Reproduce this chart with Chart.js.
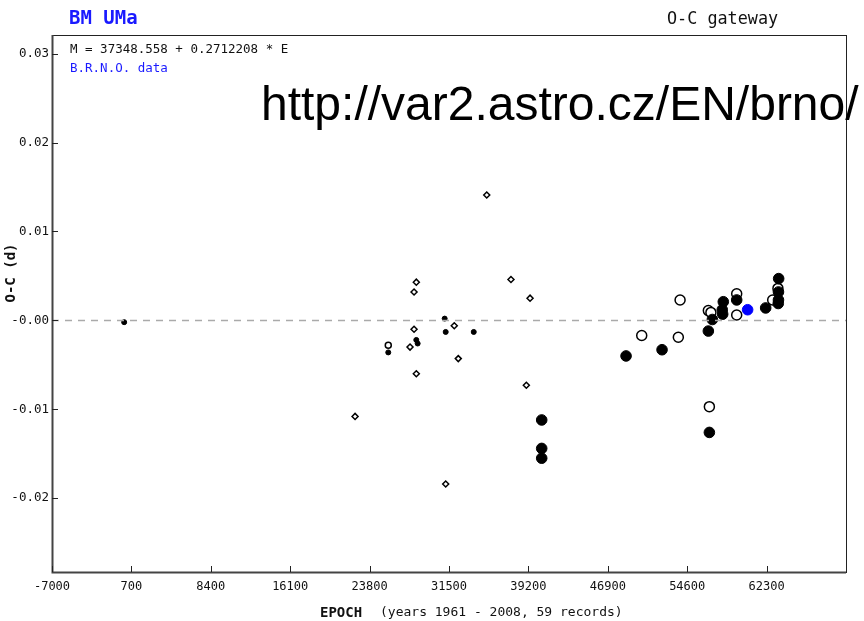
<!DOCTYPE html>
<html>
<head>
<meta charset="utf-8">
<title>BM UMa O-C</title>
<script src="https://cdn.jsdelivr.net/npm/chart.js@4.4.1/dist/chart.umd.min.js"></script>
<style>
    body { margin: 0; background: #fff; }
    canvas { display: block; }
</style>
</head>
<body>
<canvas id="ocChart" width="864" height="621"></canvas>
<script>
// axis ticks
const xTickValues = [-7000, 700, 8400, 16100, 23800, 31500, 39200, 46900, 54600, 62300];
const xTickLabels = ['-7000', '700', '8400', '16100', '23800', '31500', '39200', '46900', '54600', '62300'];
const yTickValues = [0.03, 0.02, 0.01, 0, -0.01, -0.02];
const yTickLabels = ['0.03', '0.02', '0.01', '-0.00', '-0.01', '-0.02'];

// visual minima (small open diamonds)
const visEpoch = [35160, 28330, 28110, 37510, 39360, 32010, 28110, 27720, 32400, 28330, 39000, 22390, 31180];
const visOC = [0.0141, 0.0043, 0.0032, 0.0046, 0.0025, -0.0006, -0.0010, -0.0030, -0.0043, -0.0060, -0.0073, -0.0108, -0.0184];

// small filled points
const smallEpoch = [0, 31080, 31180, 33900, 28330, 28460, 25610];
const smallOC = [-0.0002, 0.0002, -0.0013, -0.0013, -0.0022, -0.0026, -0.0036];

// small open point
const smallOpenEpoch = [25610];
const smallOpenOC = [-0.0028];

// primary minima (large filled)
const priEpoch = [40490, 40490, 40490, 48670, 52160, 56650, 56750, 57040, 58040, 58000, 58100, 59400, 62210, 63470, 63450, 63450, 63430];
const priOC = [-0.0112, -0.0144, -0.0155, -0.0040, -0.0033, -0.0012, -0.0126, 0.0001, 0.0007, 0.0012, 0.0021, 0.0023, 0.0014, 0.0047, 0.0032, 0.0023, 0.0019];

// secondary minima (large open)
const secEpoch = [50190, 53740, 53910, 56650, 56900, 56750, 59400, 59400, 62890, 63400];
const secOC = [-0.0017, -0.0019, 0.0023, 0.0011, 0.0009, -0.0097, 0.0030, 0.0006, 0.0023, 0.0036];

// B.R.N.O. data
const brnoEpoch = [60460];
const brnoOC = [0.0012];

const xMin = -7000, xMax = 70000;
const yMin = -0.0283, yMax = 0.0321;

const toPoints = (xs, ys) => xs.map((x, i) => ({ x: x, y: ys[i] }));

const mono = '"DejaVu Sans Mono", monospace';
const blue = '#1a1aff';

// frame, inward ticks and all the text around the plot
const decorPlugin = {
    id: 'decor',
    afterDraw(chart) {
        const ctx = chart.ctx;
        const area = chart.chartArea;
        const xs = chart.scales.x;
        const ys = chart.scales.y;

        ctx.save();

        // frame
        ctx.strokeStyle = '#222';
        ctx.lineWidth = 1;
        ctx.strokeRect(area.left + 0.5, area.top + 0.5, area.right - area.left, area.bottom - area.top);
        ctx.strokeStyle = '#444';
        ctx.lineWidth = 2;
        ctx.beginPath();
        ctx.moveTo(area.left + 0.5, area.top);
        ctx.lineTo(area.left + 0.5, area.bottom + 0.5);
        ctx.lineTo(area.right, area.bottom + 0.5);
        ctx.stroke();

        // ticks pointing into the plot
        ctx.strokeStyle = '#222';
        ctx.lineWidth = 1;
        ctx.beginPath();
        xTickValues.forEach((v) => {
            const px = Math.round(xs.getPixelForValue(v)) + 0.5;
            ctx.moveTo(px, area.bottom);
            ctx.lineTo(px, area.bottom - 6);
        });
        yTickValues.forEach((v) => {
            const py = Math.round(ys.getPixelForValue(v)) + 0.5;
            ctx.moveTo(area.left, py);
            ctx.lineTo(area.left + 6, py);
        });
        ctx.stroke();

        // header
        ctx.textBaseline = 'middle';
        ctx.textAlign = 'left';
        ctx.fillStyle = blue;
        ctx.font = 'bold 19px ' + mono;
        ctx.fillText('BM UMa', 69, 19);

        ctx.fillStyle = '#111';
        ctx.font = '16.8px ' + mono;
        ctx.fillText('O-C gateway', 667, 20);

        ctx.font = '12.5px ' + mono;
        ctx.fillText('M = 37348.558 + 0.2712208 * E', 70, 50);
        ctx.fillStyle = blue;
        ctx.fillText('B.R.N.O. data', 70, 69);

        // x axis title
        ctx.fillStyle = '#111';
        ctx.font = 'bold 14px ' + mono;
        ctx.fillText('EPOCH', 320, 613);
        ctx.font = '13px ' + mono;
        ctx.fillText('(years 1961 - 2008, 59 records)', 380, 613);

        // y axis title
        ctx.save();
        ctx.translate(11, 273);
        ctx.rotate(-Math.PI / 2);
        ctx.textAlign = 'center';
        ctx.font = 'bold 14px ' + mono;
        ctx.fillText('O-C (d)', 0, 0);
        ctx.restore();

        // watermark
        ctx.fillStyle = '#000';
        ctx.font = '48px "Liberation Sans", Arial, sans-serif';
        ctx.textBaseline = 'alphabetic';
        ctx.fillText('http://var2.astro.cz/EN/brno/', 261, 120);

        ctx.restore();
    }
};

const initChart = () => {
    const canvas = document.getElementById('ocChart');

    new Chart(canvas, {
        type: 'scatter',
        data: {
            datasets: [
                {
                    type: 'line',
                    label: 'zero',
                    data: [{ x: xMin, y: 0 }, { x: xMax, y: 0 }],
                    borderColor: '#aaaaaa',
                    borderWidth: 1.5,
                    borderDash: [7, 6],
                    pointRadius: 0,
                    fill: false,
                },
                {
                    label: 'visual',
                    data: toPoints(visEpoch, visOC),
                    pointStyle: 'rectRot',
                    pointRadius: 3,
                    backgroundColor: '#ffffff',
                    borderColor: '#000000',
                    borderWidth: 1.5,
                },
                {
                    label: 'small',
                    data: toPoints(smallEpoch, smallOC),
                    pointStyle: 'circle',
                    pointRadius: 2.5,
                    backgroundColor: '#000000',
                    borderColor: '#000000',
                    borderWidth: 1,
                },
                {
                    label: 'small open',
                    data: toPoints(smallOpenEpoch, smallOpenOC),
                    pointStyle: 'circle',
                    pointRadius: 3,
                    backgroundColor: '#ffffff',
                    borderColor: '#000000',
                    borderWidth: 1.5,
                },
                {
                    label: 'primary',
                    data: toPoints(priEpoch, priOC),
                    pointStyle: 'circle',
                    pointRadius: 5.3,
                    backgroundColor: '#000000',
                    borderColor: '#000000',
                    borderWidth: 1,
                },
                {
                    label: 'secondary',
                    data: toPoints(secEpoch, secOC),
                    pointStyle: 'circle',
                    pointRadius: 5,
                    backgroundColor: '#ffffff',
                    borderColor: '#000000',
                    borderWidth: 1.5,
                },
                {
                    label: 'B.R.N.O.',
                    data: toPoints(brnoEpoch, brnoOC),
                    pointStyle: 'circle',
                    pointRadius: 5.3,
                    backgroundColor: '#0000ff',
                    borderColor: '#0000ff',
                    borderWidth: 1,
                }
            ]
        },
        options: {
            responsive: false,
            animation: false,
            layout: {
                padding: { top: 35, right: 18, left: 0, bottom: 0 }
            },
            plugins: {
                legend: { display: false },
                tooltip: { enabled: false }
            },
            scales: {
                x: {
                    type: 'linear',
                    min: xMin,
                    max: xMax,
                    afterFit: (scale) => { scale.height = 49; },
                    afterBuildTicks: (scale) => {
                        scale.ticks = xTickValues.map((v) => ({ value: v }));
                    },
                    grid: { display: false, drawTicks: false },
                    border: { display: false },
                    ticks: {
                        autoSkip: false,
                        maxRotation: 0,
                        padding: 8,
                        color: '#111',
                        font: { family: mono, size: 12 },
                        callback: (value, index) => xTickLabels[index]
                    }
                },
                y: {
                    type: 'linear',
                    min: yMin,
                    max: yMax,
                    afterFit: (scale) => { scale.width = 52; },
                    afterBuildTicks: (scale) => {
                        scale.ticks = yTickValues.map((v) => ({ value: v }));
                    },
                    grid: { display: false, drawTicks: false },
                    border: { display: false },
                    ticks: {
                        autoSkip: false,
                        padding: 3,
                        color: '#111',
                        font: { family: mono, size: 12.5 },
                        callback: (value, index) => yTickLabels[index]
                    }
                }
            }
        },
        plugins: [decorPlugin]
    });
};

document.addEventListener('DOMContentLoaded', initChart);
</script>
</body>
</html>
